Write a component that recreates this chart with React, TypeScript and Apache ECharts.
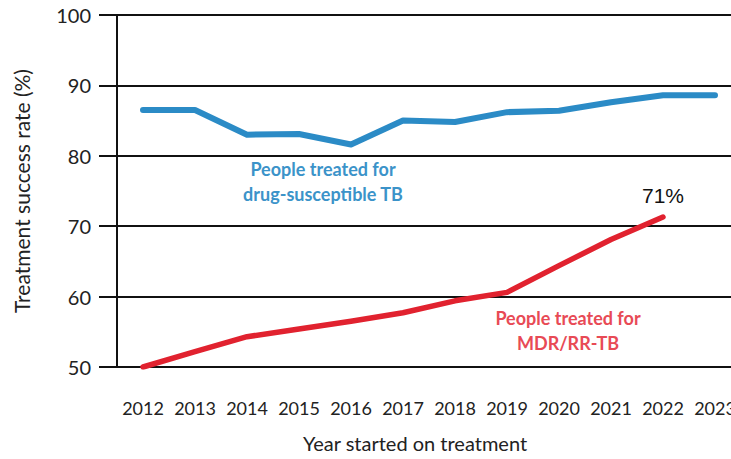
import React, { useEffect, useRef } from "react";
import * as echarts from "echarts";

const years = ["2012", "2013", "2014", "2015", "2016", "2017", "2018", "2019", "2020", "2021", "2022", "2023"];
const drugSusceptible = [86.5, 86.5, 83.0, 83.1, 81.6, 85.0, 84.8, 86.2, 86.4, 87.6, 88.6, 88.6];
const mdrRrTb = [50.0, 52.2, 54.3, 55.4, 56.5, 57.7, 59.4, 60.6, 64.4, 68.1, 71.3];
const yTicks = { min: 50, max: 100, interval: 10 };

const BLUE = "#2b8bc6";
const RED = "#e1222f";

export default function App() {
  const ref = useRef<HTMLDivElement>(null);
  useEffect(() => {
    if (!ref.current) return;
    const chart = echarts.init(ref.current, undefined, { renderer: "svg" });
    const redData: any[] = mdrRrTb.map((v, i) =>
      i === mdrRrTb.length - 1
        ? {
            value: v,
            symbol: "circle",
            symbolSize: 2,
            itemStyle: { color: RED },
            label: {
              show: true,
              position: "top",
              distance: 10,
              formatter: () => Math.round(v) + "%",
              color: "#111",
              fontFamily: "Liberation Sans",
              fontSize: 21,
            },
          }
        : v
    );
    chart.setOption({
      animation: false,
      backgroundColor: "#fff",
      grid: { left: 117, top: 15, bottom: 92, width: 624, outerBoundsMode: "none", containLabel: false },
      xAxis: {
        type: "category",
        data: years,
        boundaryGap: true,
        axisLine: { lineStyle: { color: "#111", width: 2 } },
        axisTick: { alignWithLabel: true, length: 20, lineStyle: { color: "#111", width: 2 } },
        axisLabel: { margin: 32, color: "#222", fontFamily: "Lato", fontSize: 18, interval: 0 },
        splitLine: { show: false },
      },
      yAxis: {
        type: "value",
        min: yTicks.min,
        max: yTicks.max,
        interval: yTicks.interval,
        name: "Treatment success rate (%)",
        nameLocation: "middle",
        nameGap: 85,
        nameTextStyle: { color: "#222", fontFamily: "Lato", fontSize: 21 },
        axisLine: { show: true, lineStyle: { color: "#111", width: 2 } },
        axisTick: { show: true, length: 18, lineStyle: { color: "#111", width: 2 } },
        axisLabel: { margin: 26, color: "#222", fontFamily: "Lato", fontSize: 20 },
        splitLine: { show: true, lineStyle: { color: "#111", width: 2 } },
      },
      series: [
        {
          type: "line",
          name: "People treated for drug-susceptible TB",
          data: drugSusceptible,
          symbol: "none",
          lineStyle: { color: BLUE, width: 6, cap: "round", join: "round" },
          itemStyle: { color: BLUE },
          z: 3,
        },
        {
          type: "line",
          name: "People treated for MDR/RR-TB",
          data: redData,
          symbol: "none",
          showSymbol: true,
          lineStyle: { color: RED, width: 5.5, cap: "round", join: "round" },
          itemStyle: { color: RED },
          z: 3,
        },
      ],
      graphic: [
        {
          type: "text",
          x: 323,
          y: 169,
          style: {
            text: "People treated for",
            fill: "#3b93c9",
            font: "bold 18px Lato",
            align: "center",
            verticalAlign: "middle",
          },
        },
        {
          type: "text",
          x: 323,
          y: 194,
          style: {
            text: "drug-susceptible TB",
            fill: "#3b93c9",
            font: "bold 18px Lato",
            align: "center",
            verticalAlign: "middle",
          },
        },
        {
          type: "text",
          x: 568,
          y: 318,
          style: {
            text: "People treated for",
            fill: "#e84a55",
            font: "bold 18px Lato",
            align: "center",
            verticalAlign: "middle",
          },
        },
        {
          type: "text",
          x: 568,
          y: 343,
          style: {
            text: "MDR/RR-TB",
            fill: "#e84a55",
            font: "bold 18px Lato",
            align: "center",
            verticalAlign: "middle",
          },
        },
        {
          type: "text",
          x: 415,
          y: 443,
          style: {
            text: "Year started on treatment",
            fill: "#222",
            font: "20px Lato",
            align: "center",
            verticalAlign: "middle",
          },
        },
      ],
    });
    return () => chart.dispose();
  }, []);
  return (
    <div
      ref={ref}
      style={{ position: "absolute", left: 0, top: 0, width: 731, height: 459 }}
    />
  );
}
